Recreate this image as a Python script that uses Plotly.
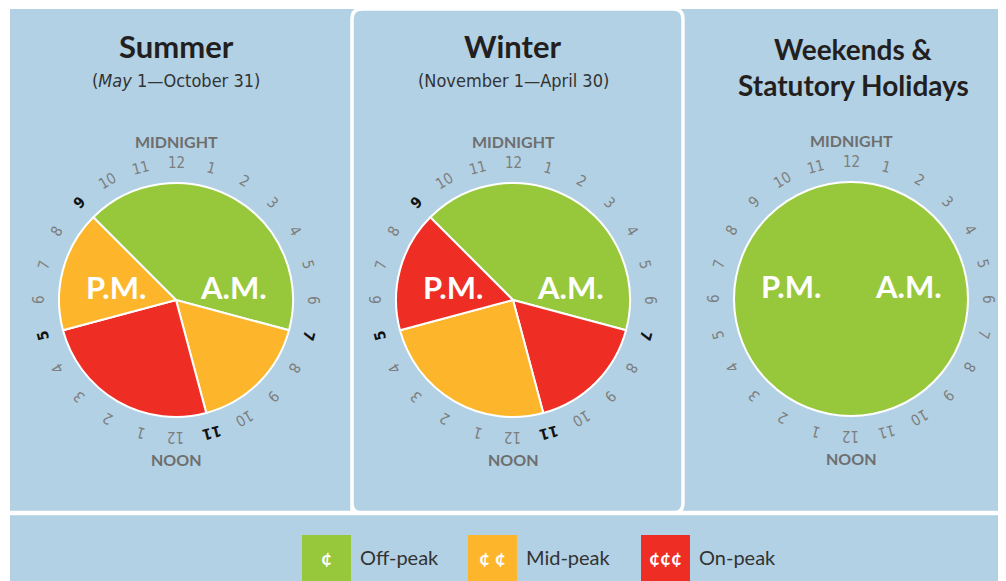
import plotly.graph_objects as go
import math

# page body margin offset (plotly html page has 8px body margin)
OFF = 8
W, H = 1006 - OFF, 581 - OFF

# ---------------- data ----------------
clock_labels = ["12", "1", "2", "3", "4", "5", "6", "7", "8", "9", "10", "11",
                "12", "1", "2", "3", "4", "5", "6", "7", "8", "9", "10", "11"]

summer_periods = ["Off-peak", "Mid-peak", "On-peak", "Mid-peak"]
summer_hours = [10, 4, 6, 4]
summer_start = 21

winter_periods = ["Off-peak", "On-peak", "Mid-peak", "On-peak"]
winter_hours = [10, 4, 6, 4]
winter_start = 21

weekend_periods = ["Off-peak"]
weekend_hours = [24]
weekend_start = 0

summer_bold = [7, 11, 17, 21]
winter_bold = [7, 11, 17, 21]
weekend_bold = []

panel_titles = [["Summer"], ["Winter"], ["Weekends &", "Statutory Holidays"]]
panel_subtitles = ["(<i>May</i> 1\u2014October 31)", "(November 1\u2014April 30)", ""]

legend_labels = ["Off-peak", "Mid-peak", "On-peak"]
legend_glyphs = ["\u00a2", "\u00a2 \u00a2", "\u00a2\u00a2\u00a2"]

# ---------------- style ----------------
colors = {"Off-peak": "#97c83c", "Mid-peak": "#fdb62b", "On-peak": "#ee2e24"}
BLUE = "#b2d1e4"
centers = [(176, 300), (513, 300), (851, 299)]
R = 117
LABEL_R = 137
NARROW = "Liberation Sans Narrow, DejaVu Sans Condensed, Roboto Condensed, Roboto, sans-serif"
GEO = "Lato, sans-serif"


def fx(x):
    return (x - OFF) / W


def fy(y):
    return 1 - (y - OFF) / H


fig = go.Figure()
shapes = []
annotations = []


def ann(x, y, text, size, color, family=GEO, angle=0, xanchor="center"):
    annotations.append(dict(x=fx(x), y=fy(y), xref="paper", yref="paper", showarrow=False,
                            text=text, textangle=angle, font=dict(family=family, size=size, color=color),
                            xanchor=xanchor, yanchor="middle"))


# background panels
shapes.append(dict(type="rect", xref="paper", yref="paper", x0=fx(10), x1=fx(1010), y0=fy(590), y1=fy(9),
                   fillcolor=BLUE, line=dict(width=0), layer="below"))
r = 10
path = (f"M {fx(352)},{fy(513)} L {fx(352)},{fy(9 + r)} Q {fx(352)},{fy(9)} {fx(352 + r)},{fy(9)} "
        f"L {fx(683 - r)},{fy(9)} Q {fx(683)},{fy(9)} {fx(683)},{fy(9 + r)} L {fx(683)},{fy(513 - r)} "
        f"Q {fx(683)},{fy(513)} {fx(683 - r)},{fy(513)} L {fx(352 + r)},{fy(513)} "
        f"Q {fx(352)},{fy(513)} {fx(352)},{fy(513 - r)} Z")
shapes.append(dict(type="path", xref="paper", yref="paper", path=path,
                   line=dict(color="white", width=3.5), layer="below"))
shapes.append(dict(type="line", xref="paper", yref="paper", x0=fx(10), x1=fx(1010), y0=fy(513), y1=fy(513),
                   line=dict(color="white", width=4.5), layer="below"))

pies = [(summer_periods, summer_hours, summer_start, summer_bold),
        (winter_periods, winter_hours, winter_start, winter_bold),
        (weekend_periods, weekend_hours, weekend_start, weekend_bold)]

for i, ((periods, hours, start, bold), (cx, cy)) in enumerate(zip(pies, centers)):
    labels = []
    h = start
    for p, n in zip(periods, hours):
        labels.append(f"{p} {h % 24:02d}:00-{(h + n) % 24:02d}:00")
        h += n
    rot = start * 15
    fig.add_trace(go.Pie(
        labels=labels, values=hours, sort=False, direction="clockwise",
        rotation=rot if rot <= 180 else rot - 360,
        marker=dict(colors=[colors[p] for p in periods], line=dict(color="white", width=2)),
        textinfo="none", hoverinfo="label", showlegend=False,
        domain=dict(x=[fx(cx - R), fx(cx + R)], y=[fy(cy + R), fy(cy - R)])))

    # hour labels
    for hr, lab in enumerate(clock_labels):
        ang = hr * 15
        rad = math.radians(ang)
        x = cx + LABEL_R * math.sin(rad)
        y = cy - LABEL_R * math.cos(rad)
        isb = hr in bold
        ann(x, y, f"<b>{lab}</b>" if isb else lab, 15, "#111111" if isb else "#7d7d7d",
            family=NARROW, angle=ang if ang <= 180 else ang - 360)
    ann(cx, cy - 159, "<b>MIDNIGHT</b>", 16, "#6e6e6e")
    ann(cx, cy + 159, "<b>NOON</b>", 16, "#6e6e6e")
    ann(cx - 60, cy - 13, "<b>P.M.</b>", 31, "white")
    ann(cx + 57, cy - 13, "<b>A.M.</b>", 31, "white")

# titles
title_x = [176, 513, 853]
for i, (t, s) in enumerate(zip(panel_titles, panel_subtitles)):
    if s:
        ann(title_x[i], 46, f"<b>{t[0]}</b>", 31, "#231f20")
        ann(title_x[i], 80, s, 18, "#333333", family=NARROW)
    else:
        ann(title_x[i], 49, f"<b>{t[0]}</b>", 28, "#231f20")
        ann(title_x[i], 85, f"<b>{t[1]}</b>", 28, "#231f20")

# legend
leg_x = [302, 468, 641]
for lab, gl, lx in zip(legend_labels, legend_glyphs, leg_x):
    shapes.append(dict(type="rect", xref="paper", yref="paper", x0=fx(lx), x1=fx(lx + 49),
                       y0=fy(590), y1=fy(535), fillcolor=colors[lab], line=dict(width=0), layer="above"))
    ann(lx + 24.5, 557, f"<b>{gl}</b>", 19, "white")
    ann(lx + 56, 557, lab, 20, "#333333", xanchor="left")

fig.update_layout(width=W, height=H, margin=dict(l=0, r=0, t=0, b=0),
                  paper_bgcolor="white", plot_bgcolor="rgba(0,0,0,0)",
                  shapes=shapes, annotations=annotations, showlegend=False)

fig.write_html("out.html")
